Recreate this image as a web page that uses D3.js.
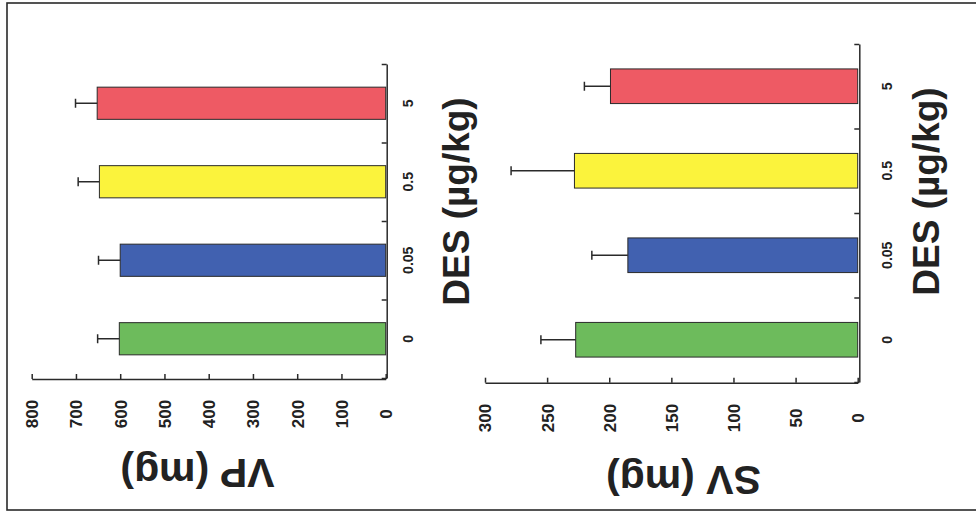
<!DOCTYPE html>
<html>
<head>
<meta charset="utf-8">
<script src="https://cdn.jsdelivr.net/npm/d3@7"></script>
<style>
  html, body { margin: 0; padding: 0; background: #fff; }
  svg { display: block; }
  text { font-family: "Liberation Sans", Arial, Helvetica, sans-serif; font-weight: bold; fill: #222; }
</style>
</head>
<body>
<svg id="chart" width="976" height="518"></svg>
<script>
// DES dose groups (µg/kg)
const categories = ["0", "0.05", "0.5", "5"];
const barColors = ["#6dbb5c", "#4161b0", "#fbf33c", "#ee5a64"];

// Ventral prostate weight (mg), mean and SEM
const vpMean = [602, 600, 647, 652];
const vpErr = [49, 49, 48, 49];
const vpTicks = [0, 100, 200, 300, 400, 500, 600, 700, 800];

// Seminal vesicle weight (mg), mean and SEM
const svMean = [227, 185, 228, 199];
const svErr = [28, 29, 51, 21];
const svTicks = [0, 50, 100, 150, 200, 250, 300];

const svg = d3.select("#chart");
const ink = "#2a2a2a";

// outer frame
svg.append("rect")
  .attr("x", 7).attr("y", 3).attr("width", 990).attr("height", 507)
  .attr("fill", "none").attr("stroke", ink).attr("stroke-width", 1.6);

// Each panel is a horizontal bar chart laid on its side: the value axis runs
// right-to-left along the bottom, the dose axis runs top-to-bottom on the right.
function panel(o) {
  const x = d3.scaleLinear().domain([0, o.max]).range([o.x0, o.x1]);
  const order = categories.slice().reverse();
  const y = d3.scaleBand().domain(order).range([o.yTop, o.yBot]);
  const edges = d3.scaleLinear().domain([0, categories.length]).range([o.yTop, o.yBot]);
  const g = svg.append("g");

  // bars
  const rows = categories.map((c, i) => ({ c, m: o.mean[i], e: o.err[i], col: barColors[i] }));
  const bh = y.bandwidth() * 0.41;
  g.selectAll("rect.bar").data(rows).join("rect")
    .attr("class", "bar")
    .attr("x", d => x(d.m))
    .attr("y", d => y(d.c) + (y.bandwidth() - bh) / 2)
    .attr("width", d => x(0) - x(d.m))
    .attr("height", bh)
    .attr("fill", d => d.col)
    .attr("stroke", ink).attr("stroke-width", 1);

  // error bars (upper SEM only)
  const eb = g.selectAll("g.err").data(rows).join("g").attr("class", "err")
    .attr("transform", d => `translate(0,${y(d.c) + y.bandwidth() / 2})`);
  eb.append("line")
    .attr("x1", d => x(d.m)).attr("x2", d => x(d.m + d.e))
    .attr("y1", 0).attr("y2", 0)
    .attr("stroke", ink).attr("stroke-width", 1.5);
  eb.append("line")
    .attr("x1", d => x(d.m + d.e)).attr("x2", d => x(d.m + d.e))
    .attr("y1", -4.5).attr("y2", 4.5)
    .attr("stroke", ink).attr("stroke-width", 1.5);

  // value axis with inward ticks
  const ax = g.append("g")
    .attr("transform", `translate(0,${o.axisY})`)
    .call(d3.axisBottom(x).tickValues(o.ticks).tickSizeInner(-5).tickSizeOuter(0).tickFormat(d3.format("d")));
  ax.attr("font-size", null).attr("font-family", null);
  ax.select(".domain").attr("stroke", ink).attr("stroke-width", 1.5);
  ax.selectAll(".tick line").attr("stroke", ink).attr("stroke-width", 1.5);
  ax.selectAll(".tick text")
    .attr("y", null).attr("dy", "0.35em")
    .attr("transform", `translate(0,${o.tickLabelY - o.axisY}) rotate(-90)`)
    .attr("text-anchor", "middle")
    .style("font-size", "17px")
    .attr("fill", "#222");

  // dose axis: ticks at group boundaries
  const cx = g.append("g")
    .attr("transform", `translate(${o.axisX},0)`)
    .call(d3.axisRight(edges).ticks(categories.length).tickSizeInner(-5).tickSizeOuter(0).tickFormat(""));
  cx.select(".domain").attr("stroke", ink).attr("stroke-width", 1.5);
  cx.selectAll(".tick line").attr("stroke", ink).attr("stroke-width", 1.5);

  // dose labels
  g.selectAll("text.cat").data(order).join("text")
    .attr("class", "cat")
    .attr("transform", d => `translate(${o.catLabelX},${y(d) + y.bandwidth() / 2}) rotate(-90)`)
    .attr("text-anchor", "middle").attr("dy", "0.35em")
    .style("font-size", "14px")
    .text(d => d);

  // axis titles
  g.append("text")
    .attr("transform", `translate(${o.desX},${o.desY}) rotate(-90)`)
    .attr("text-anchor", "middle").attr("dy", "0.36em")
    .style("font-size", "37px")
    .text("DES (µg/kg)");
  g.append("text")
    .attr("transform", `translate(${o.titleX},${o.titleY}) rotate(180)`)
    .attr("text-anchor", "middle").attr("dy", "0.36em")
    .style("font-size", "41px")
    .text(o.title);
}

panel({
  mean: vpMean, err: vpErr, ticks: vpTicks, max: 800,
  x0: 385.7, x1: 31.7, yTop: 64, yBot: 378,
  axisY: 379, axisX: 386.7, tickLabelY: 414, catLabelX: 408.3,
  desX: 456, desY: 201.5, titleX: 197.5, titleY: 474, title: "VP (mg)"
});

panel({
  mean: svMean, err: svErr, ticks: svTicks, max: 300,
  x0: 857.7, x1: 485, yTop: 44, yBot: 382,
  axisY: 382.7, axisX: 859.3, tickLabelY: 418, catLabelX: 886.7,
  desX: 926, desY: 191.5, titleX: 683.5, titleY: 481, title: "SV (mg)"
});
</script>
</body>
</html>
